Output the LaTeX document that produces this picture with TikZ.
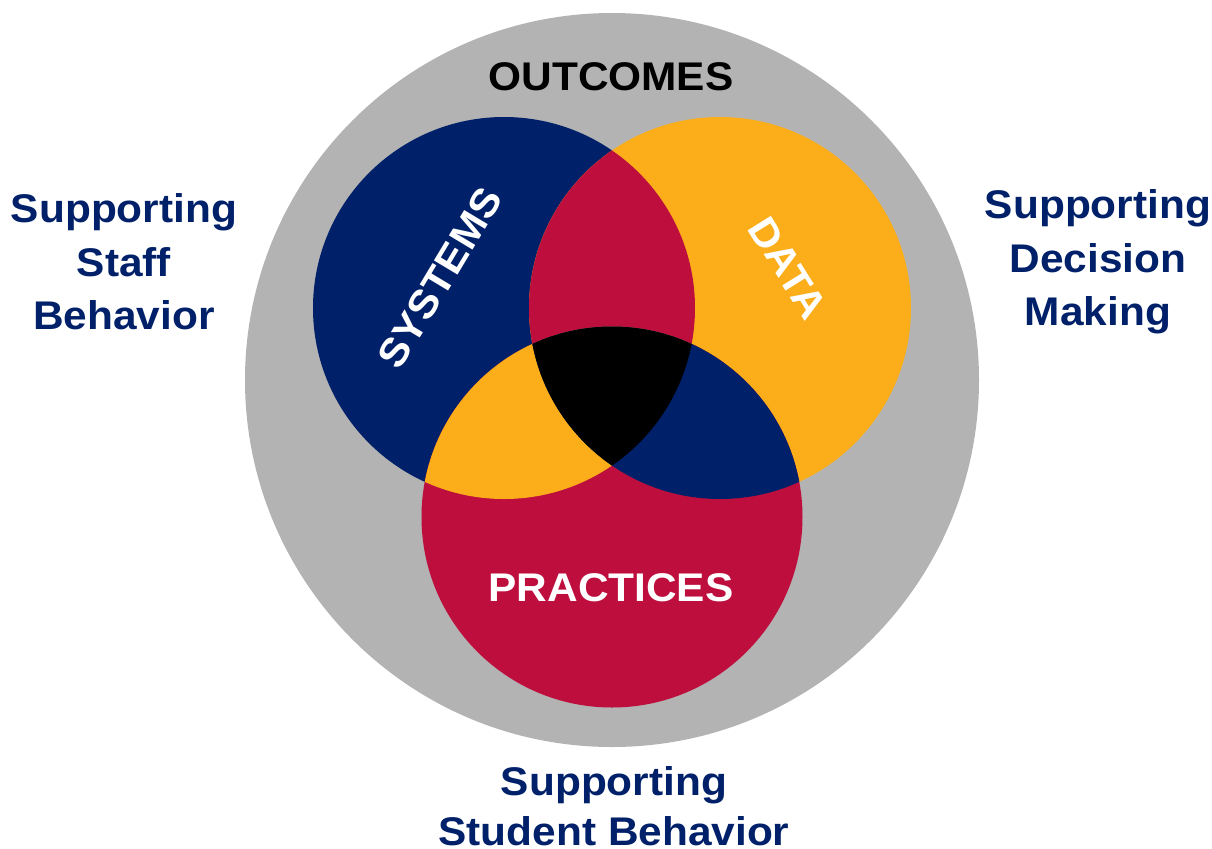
\documentclass[tikz,border=0pt]{standalone}
\usepackage{fontspec}
\setmainfont{Liberation Sans}[FakeStretch=1.06]
\usepackage{tikz}
\usepackage{xcolor}
\definecolor{vennnavy}{HTML}{002169}
\definecolor{vennorange}{HTML}{FBAE1A}
\definecolor{vennred}{HTML}{BE0E3E}
\definecolor{venngrey}{HTML}{B3B3B3}
\tikzset{
    venn-label/.style = {text=white, font=\bfseries\fontsize{20}{24}\selectfont, inner sep=0pt},
    side-label/.style = {text=vennnavy, align=center, font=\bfseries\fontsize{20}{26.75}\selectfont, inner sep=0pt},
}

\begin{document}
\begin{tikzpicture}[x=0.5pt, y=0.5pt]
\useasboundingbox (0,0) rectangle (1212,-848);
\coordinate (outcomes-c) at (612,-380);
\coordinate (systems-c) at (504,-308);
\coordinate (data-c) at (720,-308);
\coordinate (practices-c) at (612,-517);
\fill[venngrey] (outcomes-c) circle [radius=183.5pt];
\fill[vennnavy] (systems-c) circle [radius=95.5pt];
\fill[vennorange] (data-c) circle [radius=95.5pt];
\fill[vennred] (practices-c) circle [radius=95.25pt];
\begin{scope}
    \clip (systems-c) circle [radius=95.5pt];
    \fill[vennred] (data-c) circle [radius=95.5pt];
    \fill[vennorange] (practices-c) circle [radius=95.25pt];
\end{scope}
\begin{scope}
    \clip (data-c) circle [radius=95.5pt];
    \fill[vennnavy] (practices-c) circle [radius=95.25pt];
\end{scope}
\begin{scope}
    \clip (systems-c) circle [radius=95.5pt];
    \clip (data-c) circle [radius=95.5pt];
    \fill[black] (practices-c) circle [radius=95.25pt];
\end{scope}
\node[side-label, text=black] (outcomes) at (611,-76.5) {OUTCOMES};
\node[venn-label, rotate=59] (systems) at (440,-278) {SYSTEMS};
\node[venn-label, rotate=-58] (data) at (788,-268) {DATA};
\node[venn-label] (practices) at (611,-587.5) {PRACTICES};
\node[side-label] (staff) at (124,-262) {Supporting\\Staff\\Behavior};
\node[side-label] (decision) at (1098,-262) {Supporting\\Decision\\Making};
\node[side-label, font=\bfseries\fontsize{20}{25}\selectfont] (student) at (614,-806) {Supporting\\Student Behavior};
\end{tikzpicture}
\end{document}
